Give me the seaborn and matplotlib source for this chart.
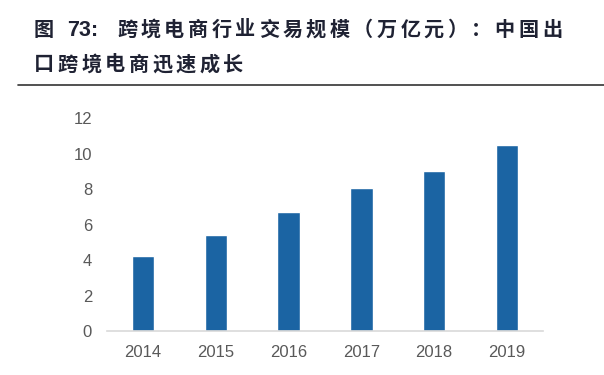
import matplotlib
matplotlib.use('Agg')
import matplotlib.pyplot as plt
import seaborn as sns
import pandas as pd
from matplotlib.lines import Line2D

# Data
years = ['2014', '2015', '2016', '2017', '2018', '2019']
scale = [4.2, 5.4, 6.7, 8.06, 9.0, 10.5]
y_ticks = [0, 2, 4, 6, 8, 10, 12]
title_fig = '图'
title_num = '73:'
title_line1 = '跨境电商行业交易规模（万亿元）：中国出'
title_line2 = '口跨境电商迅速成长'

df = pd.DataFrame({'year': years, 'scale': scale})

sns.set_style('white')
plt.rcParams['font.family'] = ['Liberation Sans', 'Noto Sans CJK SC', 'DejaVu Sans']

W, H = 604, 375
fig = plt.figure(figsize=(W / 100, H / 100), dpi=100)
ax = fig.add_axes([106.7 / W, 1 - 331 / H, 436.6 / W, 213 / H])

sns.barplot(data=df, x='year', y='scale', color='#1B64A3', width=0.31,
            saturation=1, ax=ax)

ax.set_xlim(-0.5, len(years) - 0.5)
ax.set_ylim(0, 12)
ax.set_yticks(y_ticks)
ax.set_xlabel('')
ax.set_ylabel('')
ax.tick_params(axis='both', length=0, labelsize=12, colors='#595959')
ax.tick_params(axis='y', pad=10.5)
ax.tick_params(axis='x', pad=10)
for s in ['top', 'right', 'left']:
    ax.spines[s].set_visible(False)
ax.spines['bottom'].set_color('#D9D9D9')
ax.spines['bottom'].set_linewidth(1.2)

title_color = '#1f2233'


# Title: CJK text is drawn with wide letter spacing, one glyph at a time
def spaced(text, x0, y, step):
    for i, ch in enumerate(text):
        fig.text((x0 + i * step) / W, 1 - y / H, ch, fontsize=14.5,
                 fontweight='bold', color=title_color, va='center', ha='left')


fig.text(34 / W, 1 - 30 / H, title_fig, fontsize=14.5, fontweight='bold',
         color=title_color, va='center', ha='left')
fig.text(67 / W, 1 - 31 / H, title_num, fontsize=15.5, fontweight='bold',
         color=title_color, va='center', ha='left')
spaced(title_line1, 117, 30, 23.6)
spaced(title_line2, 34, 65, 23.6)

fig.add_artist(Line2D([18 / W, 1], [1 - 85 / H, 1 - 85 / H],
                      color='#333333', linewidth=1.2, transform=fig.transFigure))

fig.savefig('out.png', dpi=100)
